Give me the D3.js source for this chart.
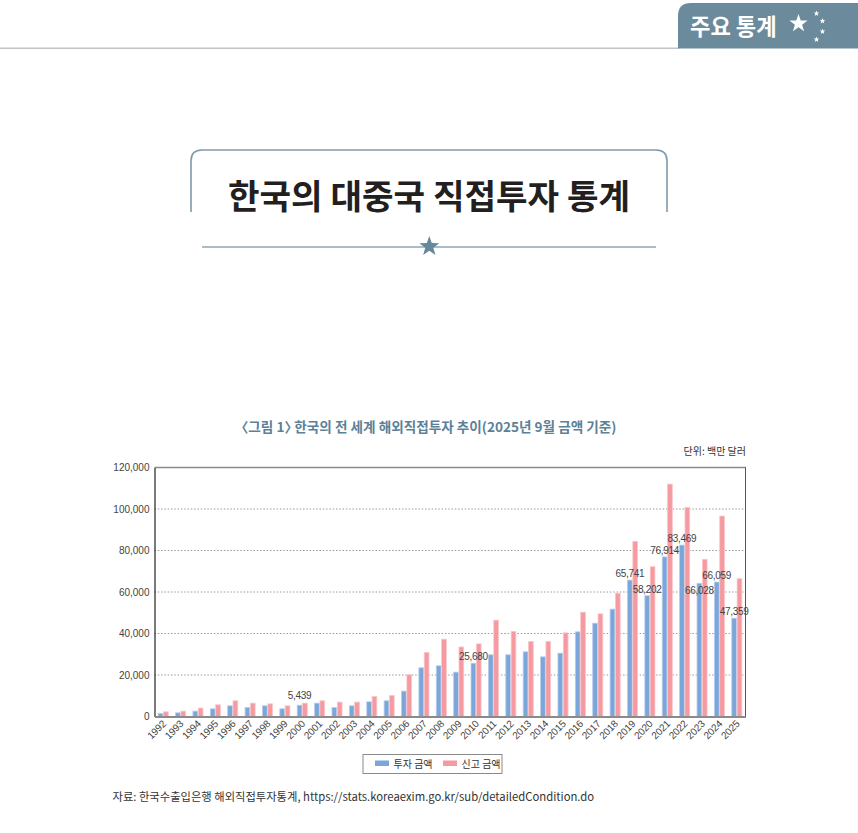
<!DOCTYPE html>
<html>
<head>
<meta charset="utf-8">
<script src="https://cdn.jsdelivr.net/npm/d3@7/dist/d3.min.js"></script>
<style>
  html, body { margin: 0; padding: 0; background: #fff; }
  svg { display: block; }
  .halt { font-feature-settings: "halt" 1; }
</style>
</head>
<body>
<svg id="chart" width="858" height="833"></svg>
<script>
// ---- Data ----
const years = ["1992","1993","1994","1995","1996","1997","1998","1999","2000","2001","2002","2003","2004","2005","2006","2007","2008","2009","2010","2011","2012","2013","2014","2015","2016","2017","2018","2019","2020","2021","2022","2023","2024","2025"];
const investAmount = [1450,1780,2600,3700,5150,4340,5150,3700,5439,6430,4340,5150,7080,7570,12240,23470,24430,21370,25680,29730,29730,31170,28760,30520,40800,44980,51730,65741,58202,76914,82600,64200,64800,47359];
const reportAmount = [2270,2600,4050,5640,7570,6430,6100,5150,6430,7570,6940,6940,9640,10120,20100,30840,37260,33500,35000,46420,40960,36140,36140,40320,50280,49480,59440,84400,72200,112000,100750,75750,96600,66400];
const seriesNames = ["투자 금액", "신고 금액"];
const labelYears = ["2000","2010","2019","2020","2021","2022","2023","2024","2025"];
const labelTexts = ["5,439","25,680","65,741","58,202","76,914","83,469","66,028","66,059","47,359"];
const yTicks = [0,20000,40000,60000,80000,100000,120000];

// ---- Layout / style ----
const svg = d3.select("#chart");
const plot = { left: 154.5, right: 745.5, top: 467.5, bottom: 716.5 };
const colors = ["#7ba6da", "#f59aa0"];
const strokes = ["#b7cdec", "#fbc6c9"];
const KR = "'Noto Sans CJK KR','Noto Sans',sans-serif";
const NUM = "'Liberation Sans',Arial,sans-serif";

function starPoints(cx, cy, R, r) {
  const pts = [];
  for (let i = 0; i < 10; i++) {
    const a = -Math.PI / 2 + i * Math.PI / 5;
    const rad = i % 2 === 0 ? R : r;
    pts.push([cx + rad * Math.cos(a), cy + rad * Math.sin(a)]);
  }
  return pts.map(p => p.join(",")).join(" ");
}

// ---- Header tab ----
svg.append("line").attr("x1", 0).attr("x2", 679).attr("y1", 48.3).attr("y2", 48.3)
  .attr("stroke", "#c4c4c4").attr("stroke-width", 1.5);
svg.append("path")
  .attr("d", "M678,48.5 V16 Q678,3 691,3 H858 V48.5 Z")
  .attr("fill", "#6b8b9c");
svg.append("text").attr("x", 690).attr("y", 34.5)
  .attr("font-family", KR).attr("font-weight", 700).attr("font-size", 22.2)
  .attr("fill", "#fff").text("주요 통계");
svg.append("polygon").attr("points", starPoints(798.5, 23.5, 9.5, 3.8)).attr("fill", "#fff");
[[816.5, 13.5], [822.5, 21], [822.5, 31.5], [816.5, 39.5]].forEach(p => {
  svg.append("polygon").attr("points", starPoints(p[0], p[1], 3, 1.2)).attr("fill", "#fff");
});

// ---- Main title box ----
svg.append("path")
  .attr("d", "M191,212 V161 Q191,150 202,150 H656 Q667,150 667,161 V212")
  .attr("fill", "none").attr("stroke", "#7f9aab").attr("stroke-width", 1.6);
svg.append("text").attr("x", 429).attr("y", 208.5).attr("text-anchor", "middle")
  .attr("font-family", KR).attr("font-weight", 700).attr("font-size", 34.3)
  .attr("fill", "#231f20").text("한국의 대중국 직접투자 통계");
svg.append("line").attr("x1", 202).attr("x2", 656).attr("y1", 247).attr("y2", 247)
  .attr("stroke", "#8ea6b5").attr("stroke-width", 1.5);
svg.append("polygon").attr("points", starPoints(429.3, 246.5, 10.5, 4.2)).attr("fill", "#66889b");

// ---- Chart title & unit ----
svg.append("text").attr("class", "halt").attr("x", 429).attr("y", 432).attr("text-anchor", "middle")
  .attr("font-family", KR).attr("font-weight", 700).attr("font-size", 13.6)
  .attr("fill", "#5b8197")
  .text("〈그림 1〉 한국의 전 세계 해외직접투자 추이(2025년 9월 금액 기준)");
svg.append("text").attr("x", 746).attr("y", 455).attr("text-anchor", "end")
  .attr("font-family", KR).attr("font-size", 10).attr("fill", "#333")
  .text("단위: 백만 달러");

// ---- Scales ----
const x0 = d3.scaleBand().domain(years).range([plot.left, plot.right])
  .paddingInner(0.42).paddingOuter(0.21);
const x1 = d3.scaleBand().domain([0, 1]).range([0, x0.bandwidth()]).paddingInner(0.12);
const y = d3.scaleLinear().domain([0, 120000]).range([plot.bottom, plot.top]);

const g = svg.append("g");

// gridlines
g.selectAll("line.grid").data(yTicks.filter(t => t > 0 && t < 120000)).enter()
  .append("line").attr("class", "grid")
  .attr("x1", plot.left).attr("x2", plot.right)
  .attr("y1", d => y(d)).attr("y2", d => y(d))
  .attr("stroke", "#9a9a9a").attr("stroke-width", 1).attr("stroke-dasharray", "1.5,1.8");

// frame top/right
g.append("line").attr("x1", plot.left).attr("x2", plot.right + 0.5)
  .attr("y1", plot.top).attr("y2", plot.top).attr("stroke", "#8a8a8a").attr("stroke-width", 1.5);
g.append("line").attr("x1", plot.right).attr("x2", plot.right)
  .attr("y1", plot.top).attr("y2", plot.bottom).attr("stroke", "#555").attr("stroke-width", 1);

// bars
const series = [investAmount, reportAmount];
series.forEach((vals, si) => {
  g.selectAll("rect.s" + si).data(years).enter().append("rect")
    .attr("class", "s" + si)
    .attr("x", d => x0(d) + x1(si))
    .attr("width", x1.bandwidth())
    .attr("y", (d, i) => y(vals[i]))
    .attr("height", (d, i) => plot.bottom - y(vals[i]))
    .attr("fill", colors[si])
    .attr("stroke", strokes[si]).attr("stroke-width", 0.8);
});

// value labels
const labelDy = { "2000": -6, "2023": 11 };
g.selectAll("text.vlab").data(labelYears).enter().append("text")
  .attr("class", "vlab")
  .attr("x", d => x0(d) + x1(0) + x1.bandwidth() / 2)
  .attr("y", d => y(investAmount[years.indexOf(d)]) + (labelDy[d] !== undefined ? labelDy[d] : -3))
  .attr("text-anchor", "middle")
  .attr("font-family", NUM).attr("font-size", 10).attr("letter-spacing", -0.3)
  .attr("fill", "#444")
  .text((d, i) => labelTexts[i]);

// y axis
const yAxis = d3.axisLeft(y).tickValues(yTicks).tickFormat(d3.format(",")).tickSize(0).tickPadding(5);
const yg = svg.append("g").attr("transform", `translate(${plot.left},0)`).call(yAxis);
yg.select(".domain").attr("stroke", "#222").attr("stroke-width", 1.2);
yg.selectAll("text").attr("font-family", NUM).attr("font-size", 10).attr("fill", "#444");

// x axis
const xAxis = d3.axisBottom(x0).tickSize(0).tickPadding(0);
const xg = svg.append("g").attr("transform", `translate(0,${plot.bottom})`).call(xAxis);
xg.select(".domain").attr("stroke", "#8a8a8a").attr("stroke-width", 2);
xg.selectAll(".tick text")
  .attr("font-family", NUM).attr("font-size", 10).attr("letter-spacing", -0.2).attr("fill", "#444")
  .attr("text-anchor", "end").attr("dy", 0).attr("y", 0)
  .attr("transform", "translate(3.5,8) rotate(-45)");

// legend
const lg = svg.append("g");
lg.append("rect").attr("x", 363).attr("y", 754.5).attr("width", 139).attr("height", 19)
  .attr("fill", "#fff").attr("stroke", "#8a8a8a").attr("stroke-width", 1);
const legX = [375, 443];
seriesNames.forEach((n, i) => {
  lg.append("rect").attr("x", legX[i]).attr("y", 760.5).attr("width", 14).attr("height", 5.5)
    .attr("fill", colors[i]);
  lg.append("text").attr("x", legX[i] + 18.5).attr("y", 767.5)
    .attr("font-family", KR).attr("font-size", 10).attr("fill", "#333").text(n);
});

// source
svg.append("text").attr("x", 112.5).attr("y", 801)
  .attr("font-family", KR).attr("font-size", 11.3).attr("fill", "#333")
  .text("자료: 한국수출입은행 해외직접투자통계, https://stats.koreaexim.go.kr/sub/detailedCondition.do");
</script>
</body>
</html>
